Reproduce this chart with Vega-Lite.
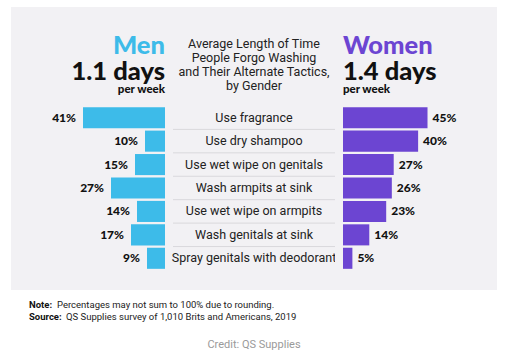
{
  "$schema": "https://vega.github.io/schema/vega-lite/v6.json",
  "background": "white",
  "padding": {"left": 11, "top": 7, "right": 8, "bottom": 0},
  "spacing": 0,
  "config": {
    "view": {"stroke": null, "fill": "#f2f1f4"},
    "concat": {"spacing": 0},
    "font": "Roboto"
  },
  "datasets": {
    "tactics": [
      {"task": "Use fragrance", "men": 0.41, "women": 0.45},
      {"task": "Use dry shampoo", "men": 0.10, "women": 0.40},
      {"task": "Use wet wipe on genitals", "men": 0.15, "women": 0.27},
      {"task": "Wash armpits at sink", "men": 0.27, "women": 0.26},
      {"task": "Use wet wipe on armpits", "men": 0.14, "women": 0.23},
      {"task": "Wash genitals at sink", "men": 0.17, "women": 0.14},
      {"task": "Spray genitals with deodorant", "men": 0.09, "women": 0.05}
    ],
    "header": [
      {"col": "men", "line": 1, "part": "name", "text": "Men"},
      {"col": "men", "line": 3, "part": "days", "text": "1.1 days"},
      {"col": "men", "line": 4, "part": "per", "text": "per week"},
      {"col": "title", "line": 1, "part": "title", "text": "Average Length of Time"},
      {"col": "title", "line": 2, "part": "title", "text": "People Forgo Washing"},
      {"col": "title", "line": 3, "part": "title", "text": "and Their Alternate Tactics,"},
      {"col": "title", "line": 4, "part": "title", "text": "by Gender"},
      {"col": "women", "line": 1, "part": "name", "text": "Women"},
      {"col": "women", "line": 3, "part": "days", "text": "1.4 days"},
      {"col": "women", "line": 4, "part": "per", "text": "per week"}
    ],
    "footer": [
      {"line": 1, "label": "Note:", "text": "Percentages may not sum to 100% due to rounding."},
      {"line": 2, "label": "Source:", "text": "QS Supplies survey of 1,010 Brits and Americans, 2019"}
    ]
  },
  "vconcat": [
    {
      "width": 486,
      "height": 96,
      "data": {"name": "header"},
      "encoding": {
        "x": {"field": "col", "type": "nominal", "axis": null,
              "scale": {"type": "point", "domain": ["men", "title", "women"], "range": [154, 332], "padding": 0}},
        "y": {"field": "line", "type": "ordinal", "axis": null,
              "scale": {"type": "point", "domain": [1, 2, 3, 4], "range": [37, 79], "padding": 0}},
        "text": {"field": "text"}
      },
      "layer": [
        {"transform": [{"filter": "datum.col === 'men' && datum.part === 'name'"}],
         "mark": {"type": "text", "align": "right", "dy": 2, "font": "Lato", "fontWeight": 900, "fontSize": 25.5, "color": "#3dbbe9"}},
        {"transform": [{"filter": "datum.col === 'men' && datum.part === 'days'"}],
         "mark": {"type": "text", "align": "right", "font": "Lato", "fontWeight": 900, "fontSize": 25.5, "color": "#111111"}},
        {"transform": [{"filter": "datum.col === 'men' && datum.part === 'per'"}],
         "mark": {"type": "text", "align": "right", "dy": 4, "font": "Lato", "fontWeight": 900, "fontSize": 11.5, "color": "#111111"}},
        {"transform": [{"filter": "datum.col === 'women' && datum.part === 'name'"}],
         "mark": {"type": "text", "align": "left", "dy": 2, "font": "Lato", "fontWeight": 900, "fontSize": 25.5, "color": "#6c45d2"}},
        {"transform": [{"filter": "datum.col === 'women' && datum.part === 'days'"}],
         "mark": {"type": "text", "align": "left", "font": "Lato", "fontWeight": 900, "fontSize": 25.5, "color": "#111111"}},
        {"transform": [{"filter": "datum.col === 'women' && datum.part === 'per'"}],
         "mark": {"type": "text", "align": "left", "dy": 4, "font": "Lato", "fontWeight": 900, "fontSize": 11.5, "color": "#111111"}},
        {"transform": [{"filter": "datum.part === 'title'"}],
         "mark": {"type": "text", "align": "center", "fontSize": 12.5, "color": "#222222"}}
      ]
    },
    {
      "spacing": 0,
      "bounds": "flush",
      "hconcat": [
        {
          "width": 162,
          "height": 187,
          "data": {"name": "tactics"},
          "encoding": {
            "y": {"field": "task", "type": "nominal", "sort": null, "axis": null,
                  "scale": {"domain": ["Use fragrance", "Use dry shampoo", "Use wet wipe on genitals", "Wash armpits at sink", "Use wet wipe on armpits", "Wash genitals at sink", "Spray genitals with deodorant"],
                            "range": [3, 167], "paddingInner": 0.1, "paddingOuter": 0.05}},
            "x": {"field": "men", "type": "quantitative", "axis": null,
                  "scale": {"domain": [0, 0.77], "range": [154, 0]}}
          },
          "layer": [
            {"mark": {"type": "bar", "color": "#3dbbe9"}},
            {"mark": {"type": "text", "align": "right", "baseline": "middle", "dx": -7, "font": "Lato", "fontWeight": 900, "fontSize": 12, "color": "#111111"},
             "encoding": {"text": {"field": "men", "type": "quantitative", "format": ".0%"}}}
          ]
        },
        {
          "width": 162,
          "height": 187,
          "data": {"name": "tactics"},
          "encoding": {
            "y": {"field": "task", "type": "nominal", "sort": null, "axis": null,
                  "scale": {"domain": ["Use fragrance", "Use dry shampoo", "Use wet wipe on genitals", "Wash armpits at sink", "Use wet wipe on armpits", "Wash genitals at sink", "Spray genitals with deodorant"],
                            "range": [3, 167], "paddingInner": 0.1, "paddingOuter": 0.05}}
          },
          "layer": [
            {"transform": [{"filter": "datum.task !== 'Use fragrance'"}],
             "mark": {"type": "rule", "color": "#d9d8dc", "strokeWidth": 1, "yOffset": -1.2},
             "encoding": {"y": {"field": "task", "type": "nominal", "sort": null, "axis": null, "bandPosition": 0}}},
            {"mark": {"type": "text", "align": "center", "baseline": "middle", "fontSize": 12.5, "color": "#222222"},
             "encoding": {"text": {"field": "task"}}}
          ]
        },
        {
          "width": 162,
          "height": 187,
          "data": {"name": "tactics"},
          "encoding": {
            "y": {"field": "task", "type": "nominal", "sort": null, "axis": null,
                  "scale": {"domain": ["Use fragrance", "Use dry shampoo", "Use wet wipe on genitals", "Wash armpits at sink", "Use wet wipe on armpits", "Wash genitals at sink", "Spray genitals with deodorant"],
                            "range": [3, 167], "paddingInner": 0.1, "paddingOuter": 0.05}},
            "x": {"field": "women", "type": "quantitative", "axis": null,
                  "scale": {"domain": [0, 0.82], "range": [8, 162]}}
          },
          "layer": [
            {"mark": {"type": "bar", "color": "#6c45d2"}},
            {"mark": {"type": "text", "align": "left", "baseline": "middle", "dx": 5, "font": "Lato", "fontWeight": 900, "fontSize": 12, "color": "#111111"},
             "encoding": {"text": {"field": "women", "type": "quantitative", "format": ".0%"}}}
          ]
        }
      ]
    },
    {
      "width": 486,
      "height": 65,
      "view": {"fill": "white"},
      "data": {"name": "footer"},
      "encoding": {
        "y": {"field": "line", "type": "ordinal", "axis": null,
              "scale": {"type": "point", "domain": [1, 2], "range": [15, 27], "padding": 0}}
      },
      "layer": [
        {"mark": {"type": "text", "align": "left", "x": 18, "fontWeight": "bold", "fontSize": 9.5, "color": "#111111"},
         "encoding": {"text": {"field": "label"}}},
        {"transform": [{"filter": "datum.line === 1"}],
         "mark": {"type": "text", "align": "left", "x": 46, "fontSize": 9.5, "color": "#222222"},
         "encoding": {"text": {"field": "text"}}},
        {"transform": [{"filter": "datum.line === 2"}],
         "mark": {"type": "text", "align": "left", "x": 55, "fontSize": 9.5, "color": "#222222"},
         "encoding": {"text": {"field": "text"}}},
        {"data": {"values": [{"credit": "Credit: QS Supplies"}]},
         "mark": {"type": "text", "align": "center", "y": 55, "fontSize": 11, "color": "#9a9a9a"},
         "encoding": {"y": null, "text": {"field": "credit"}}}
      ]
    }
  ]
}
